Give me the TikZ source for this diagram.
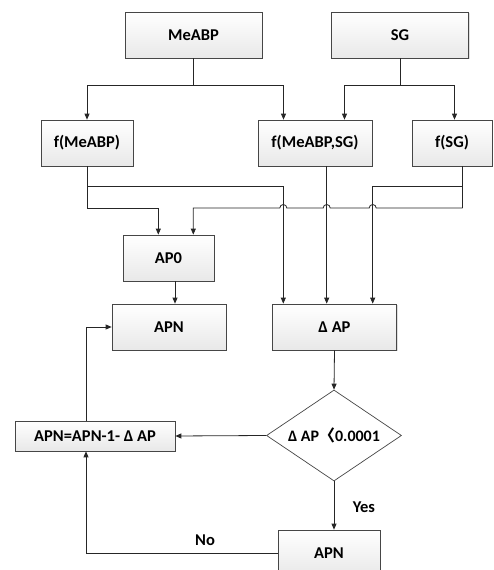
\documentclass[tikz,border=0pt]{standalone}
\usepackage{fontspec}
\setmainfont{Carlito}
\newfontfamily\cjk{Noto Sans CJK SC}
\usetikzlibrary{arrows.meta,shapes.geometric,shadows}
\begin{document}
\begin{tikzpicture}[x=1pt,y=1pt,
  box/.style={draw=gray!55!black, line width=0.7pt, top color=white, bottom color=gray!18,
    drop shadow={shadow xshift=1.2pt, shadow yshift=-1.2pt, opacity=0.25},
    minimum height=46pt, inner sep=0pt, font=\fontsize{16.5}{19}\selectfont\bfseries},
  dec/.style={draw=gray!55!black, line width=0.7pt, fill=white, shape=diamond, aspect=1.48,
    minimum width=135pt, minimum height=91pt, inner sep=0pt, font=\fontsize{16}{19}\selectfont\bfseries},
  conn/.style={draw=gray!30!black, line width=0.8pt},
  arr/.style={conn, -{Triangle[length=6pt,width=5pt]}},
  lbl/.style={font=\fontsize{16.5}{19}\selectfont\bfseries, inner sep=0pt}]
\useasboundingbox (0,0) rectangle (493,570);
% nodes
\node[box, minimum width=137pt] (meabp) at (193.5,535) {MeABP};
\node[box, minimum width=137pt] (sg) at (400,535) {SG};
\node[box, minimum width=92pt] (fm) at (87,427) {f(MeABP)};
\node[box, minimum width=114pt] (fms) at (315,427) {f(MeABP,SG)};
\node[box, minimum width=80pt] (fsg) at (452,427) {f(SG)};
\node[box, minimum width=91pt] (ap0) at (168.5,312) {AP0};
\node[box, minimum width=114pt] (apn) at (169,243) {APN};
\node[box, minimum width=124pt] (dap) at (334.5,243) {Δ AP};
\node[dec] (cond) at (334,134.5) {Δ AP{\cjk 〈}0.0001};
\node[box, minimum width=160pt, minimum height=30pt] (upd) at (95,134) {APN=APN-1- Δ AP};
\node[box, minimum width=102pt] (apnb) at (329,17) {APN};
\node[lbl] (yes) at (364,63) {Yes};
\node[lbl] (no) at (205,30) {No};
% junctions
\coordinate (j1) at (193.5,485);
\coordinate (j2) at (400,485);
\coordinate (a1) at (87,384);
\coordinate (a2) at (87,362);
\coordinate (b1) at (462.7,384);
\coordinate (b2) at (462.7,362);
% top connectors
\draw[conn] (meabp.south) -- (j1);
\draw[arr] (j1) -| (fm.north);
\draw[arr] (j1) -| ([xshift=-31.5pt]fms.north);
\draw[conn] (sg.south) -- (j2);
\draw[arr] (j2) -| ([xshift=29.5pt]fms.north);
\draw[arr] (j2) -| ([xshift=2.5pt]fsg.north);
% middle connectors
\draw[conn] (fm.south) -- (a2);
\draw[arr] (a1) -| ([xshift=-51.2pt]dap.north);
\draw[arr] (a2) -| ([xshift=-10.2pt]ap0.north);
\draw[arr] ([xshift=11.7pt]fms.south) -- ([xshift=-7.8pt]dap.north);
\draw[conn] ([xshift=10.7pt]fsg.south) -- (b2);
\draw[arr] (b1) -| ([xshift=38.2pt]dap.north);
\draw[arr] (b2) -- (376.2,362) arc[start angle=0, end angle=180, radius=3.5]
  -- (330.2,362) arc[start angle=0, end angle=180, radius=3.5]
  -- (286.8,362) arc[start angle=0, end angle=180, radius=3.5]
  -| ([xshift=24.8pt]ap0.north);
\draw[arr] ([xshift=6.5pt]ap0.south) -- ([xshift=6pt]apn.north);
% lower connectors
\draw[arr] (dap.south) -- (cond.north);
\draw[arr] (cond.west) -- (upd.east);
\draw[arr] (cond.south) -- (apnb.north-|cond.south);
\draw[arr] ([xshift=-9pt]upd.north) |- (apn.west);
\draw[arr] (apnb.west) -| ([xshift=-9pt]upd.south);
\end{tikzpicture}
\end{document}
